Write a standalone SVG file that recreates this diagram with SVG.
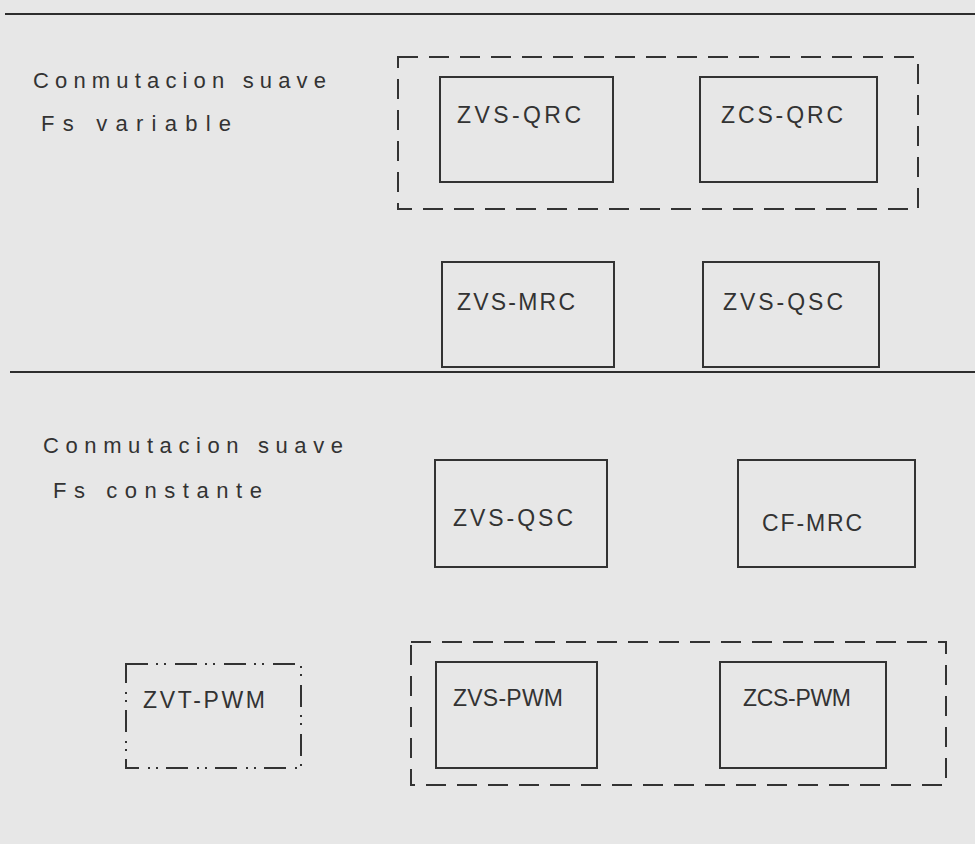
<svg xmlns="http://www.w3.org/2000/svg" width="975" height="844" viewBox="0 0 975 844">
<style>
.bg{fill:#e7e7e7}
.rule{stroke:#2e2e2e;stroke-width:2;fill:none}
.box{fill:none;stroke:#333;stroke-width:2}
.dash{fill:none;stroke:#333;stroke-width:2;stroke-dasharray:20 11}
.dashdot{fill:none;stroke:#333;stroke-width:2;stroke-dasharray:22 8 2 6 2 9}
.lbl{font-family:"Liberation Sans",Arial,sans-serif;font-size:23px;fill:#333}
.ttl{font-family:"Liberation Sans",Arial,sans-serif;font-size:22px;fill:#333}
</style>
<rect class="bg" x="0" y="0" width="975" height="844"/>
<g id="rules">
<line class="rule" x1="5" y1="14" x2="975" y2="14"/>
<line class="rule" x1="10" y1="372" x2="975" y2="372"/>
</g>
<g id="title-variable">
<text class="ttl" x="33" y="88" textLength="293" lengthAdjust="spacing">Conmutacion suave</text>
<text class="ttl" x="41" y="131" textLength="190" lengthAdjust="spacing">Fs variable</text>
</g>
<g id="group-qrc"><rect class="dash" x="398" y="57" width="520" height="152"/></g>
<g id="zvs-qrc"><rect class="box" x="440" y="77" width="173" height="105"/><text class="lbl" x="457" y="123" textLength="124" lengthAdjust="spacing">ZVS-QRC</text></g>
<g id="zcs-qrc"><rect class="box" x="700" y="77" width="177" height="105"/><text class="lbl" x="721" y="123" textLength="122" lengthAdjust="spacing">ZCS-QRC</text></g>
<g id="zvs-mrc"><rect class="box" x="442" y="262" width="172" height="105"/><text class="lbl" x="457" y="310" textLength="118" lengthAdjust="spacing">ZVS-MRC</text></g>
<g id="zvs-qsc-1"><rect class="box" x="703" y="262" width="176" height="105"/><text class="lbl" x="723" y="310" textLength="120" lengthAdjust="spacing">ZVS-QSC</text></g>
<g id="title-constante">
<text class="ttl" x="43" y="453" textLength="300" lengthAdjust="spacing">Conmutacion suave</text>
<text class="ttl" x="53" y="498" textLength="209" lengthAdjust="spacing">Fs constante</text>
</g>
<g id="zvs-qsc-2"><rect class="box" x="435" y="460" width="172" height="107"/><text class="lbl" x="453" y="526" textLength="120" lengthAdjust="spacing">ZVS-QSC</text></g>
<g id="cf-mrc"><rect class="box" x="738" y="460" width="177" height="107"/><text class="lbl" x="762" y="531" textLength="100" lengthAdjust="spacing">CF-MRC</text></g>
<g id="group-pwm"><rect class="dash" x="411" y="642" width="535" height="143"/></g>
<g id="zvs-pwm"><rect class="box" x="436" y="662" width="161" height="106"/><text class="lbl" x="453" y="706" textLength="110" lengthAdjust="spacing">ZVS-PWM</text></g>
<g id="zcs-pwm"><rect class="box" x="720" y="662" width="166" height="106"/><text class="lbl" x="743" y="706" textLength="108" lengthAdjust="spacing">ZCS-PWM</text></g>
<g id="zvt-pwm"><rect class="dashdot" x="126" y="664" width="175" height="104"/><text class="lbl" x="143" y="708" textLength="122" lengthAdjust="spacing">ZVT-PWM</text></g>
<g id="connectors"></g>
</svg>
